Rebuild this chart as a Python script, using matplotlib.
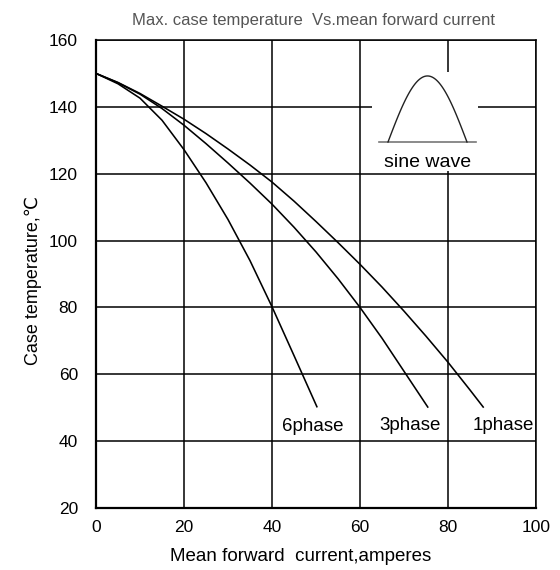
import numpy as np
import matplotlib
matplotlib.use("Agg")
import matplotlib.pyplot as plt

plt.rcParams['font.family'] = ['Liberation Sans', 'DejaVu Sans']

# ---- data ----
x_6phase = [0, 5, 10, 15, 20, 25, 30, 35, 40, 45, 50.2]
y_6phase = [150, 146.9, 142.6, 136.0, 127.2, 117.3, 106.3, 94.0, 80.2, 65.6, 50.3]

x_3phase = [0, 5, 10, 15, 20, 25, 30, 35, 40, 45, 50, 55, 60, 65, 70, 75.4]
y_3phase = [150, 147.2, 143.8, 139.5, 134.5, 129.0, 123.2, 117.2, 110.9, 104.0,
            96.6, 88.6, 80.0, 70.8, 60.9, 50.2]

x_1phase = [0, 5, 10, 15, 20, 25, 30, 35, 40, 45, 50, 55, 60, 65, 70, 75,
            80, 85, 88]
y_1phase = [150, 147.3, 144.0, 140.2, 136.3, 132.0, 127.4, 122.6, 117.5, 111.8,
            105.7, 99.4, 92.9, 86.1, 78.9, 71.4, 63.6, 55.3, 50.2]

series_names = ['6phase', '3phase', '1phase']
label_x = [49.3, 71.4, 92.5]
label_y = [44.5, 44.8, 44.8]

x_ticks = [0, 20, 40, 60, 80, 100]
y_ticks = [20, 40, 60, 80, 100, 120, 140, 160]

title = "Max. case temperature  Vs.mean forward current"
xlabel = "Mean forward  current,amperes"
ylabel = "Case temperature,\u2103"

# ---- figure ----
fig = plt.figure(figsize=(5.6, 5.7), dpi=100)
ax = fig.add_axes([96/560, 1-508/570, 440/560, 468/570])

ax.set_xlim(x_ticks[0], x_ticks[-1])
ax.set_ylim(y_ticks[0], y_ticks[-1])
ax.set_xticks(x_ticks)
ax.set_yticks(y_ticks)
ax.tick_params(length=0, labelsize=12.5, colors='black')
ax.tick_params(axis='x', pad=9)
ax.tick_params(axis='y', pad=13)
ax.grid(True, color='black', linewidth=1.1)
ax.set_axisbelow(True)
for side in ['top', 'right']:
    ax.spines[side].set_linewidth(1.1)
for side in ['left', 'bottom']:
    ax.spines[side].set_linewidth(1.6)

for xs, ys in [(x_6phase, y_6phase), (x_3phase, y_3phase), (x_1phase, y_1phase)]:
    ax.plot(xs, ys, color='black', linewidth=1.15, zorder=3,
            solid_joinstyle='round')

for name, lx, ly in zip(series_names, label_x, label_y):
    ax.text(lx, ly, name, ha='center', va='center', fontsize=13.5, zorder=4)

ax.set_xlabel(xlabel, fontsize=13.5)
ax.set_ylabel(ylabel, fontsize=13)
ax.xaxis.set_label_coords((300.7-96)/440, -0.086)
ax.yaxis.set_label_coords(-0.123, 0.487)

fig.text(314/560, 1-20/570, title, ha='center', va='center',
         fontsize=12, color='#555555')

# ---- sine wave inset illustration ----
ins = ax.inset_axes([(372-96)/440, (508-171)/468, 106/440, 99/468])
ins.set_facecolor('white')
ins.set_xlim(0, 1)
ins.set_ylim(0, 1)
ins.set_xticks([])
ins.set_yticks([])
for s in ins.spines.values():
    s.set_visible(False)
ins.set_zorder(2)
t = np.linspace(0, 1, 100)
base_y = 0.293
ins.plot([0.066, 0.981], [base_y, base_y], color='#777777', linewidth=1.2)
ins.plot(0.151 + t*(0.896-0.151), base_y + np.sin(np.pi*t)*(0.96-base_y),
         color='#222222', linewidth=1.0)
ins.text(0.528, 0.09, 'sine wave', ha='center', va='center', fontsize=14)

fig.savefig('out.png', dpi=100)
